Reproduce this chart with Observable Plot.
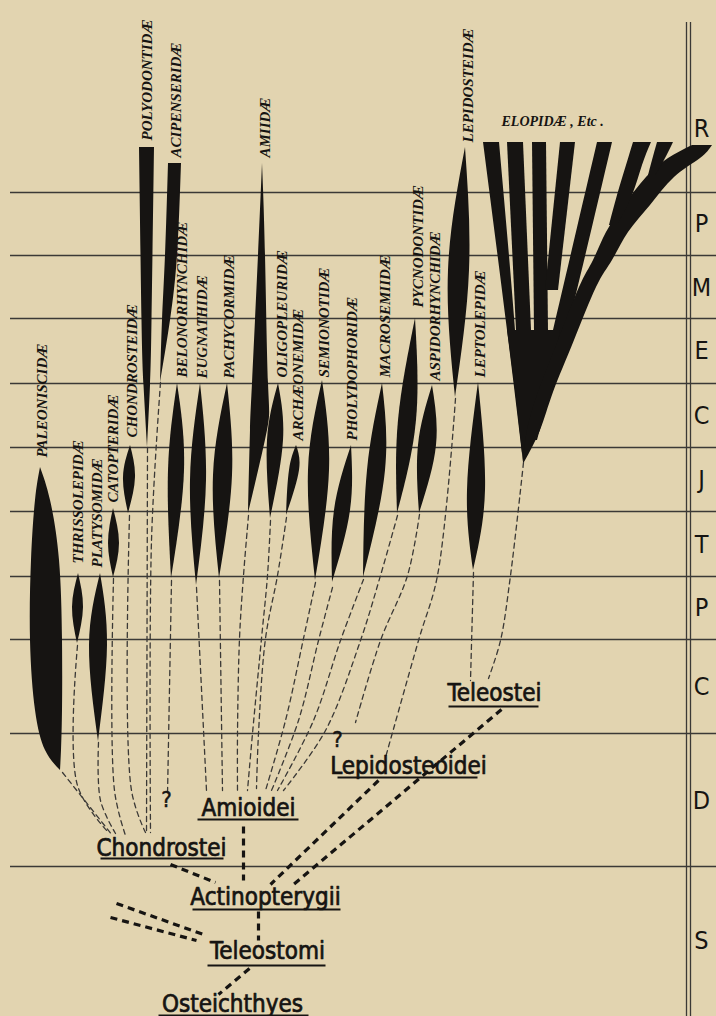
<!DOCTYPE html>
<html><head><meta charset="utf-8">
<script src="https://cdn.jsdelivr.net/npm/d3@7"></script>
<script src="https://cdn.jsdelivr.net/npm/@observablehq/plot@0.6"></script>
<style>
html,body{margin:0;padding:0;background:#e2d4b0;}
#chart svg{display:block;background:#e2d4b0;}
</style></head><body><div id="chart"></div>
<script>
// ---------- data (diagram coordinate space: 716 x 1016 units) ----------
const periodNames = ["R","P","M","E","C","J","T","P","C","D","S"];
const periodLabelY = [128,223,287,350,415,479,544,607,686,800,940];
const periodLabelX = 701;
const periodBoundaries = [192,255,318,383,447,511,576,639,733,866];
const dividerX = [686, 690];

const familyNames = ["PALEONISCIDÆ","THRISSOLEPIDÆ","PLATYSOMIDÆ","CATOPTERIDÆ","CHONDROSTEIDÆ","POLYODONTIDÆ","ACIPENSERIDÆ","BELONORHYNCHIDÆ","EUGNATHIDÆ","PACHYCORMIDÆ","AMIIDÆ","OLIGOPLEURIDÆ","ARCHÆONEMIDÆ","SEMIONOTIDÆ","PHOLYDOPHORIDÆ","MACROSEMIIDÆ","PYCNODONTIDÆ","ASPIDORHYNCHIDÆ","LEPIDOSTEIDÆ","LEPTOLEPIDÆ"];
const familyLabelX = [42,78,97,113,132,147,176,182,202,229,265,282,298,324,352,385,418,435,468,480];
const familyLabelY = [457,563,567,502,437,140,157,377,378,378,157,377,440,377,440,377,307,380,142,377];

// spindle outlines: [family, y, xLeft, xRight]
const spindleKeys = [
 ["PALEONISCIDÆ",467,40,40],["PALEONISCIDÆ",500,35,50],["PALEONISCIDÆ",560,31,59],["PALEONISCIDÆ",640,30,62],["PALEONISCIDÆ",710,35,62],["PALEONISCIDÆ",750,45,61],["PALEONISCIDÆ",770,60,60],
 ["THRISSOLEPIDÆ",573,78,78],["THRISSOLEPIDÆ",607,72,83],["THRISSOLEPIDÆ",643,77,77],
 ["PLATYSOMIDÆ",573,100,100],["PLATYSOMIDÆ",645,89,107],["PLATYSOMIDÆ",741,98,98],
 ["CATOPTERIDÆ",508,113,113],["CATOPTERIDÆ",543,108,119],["CATOPTERIDÆ",577,113,113],
 ["CHONDROSTEIDÆ",445,130,130],["CHONDROSTEIDÆ",477,123,135],["CHONDROSTEIDÆ",513,128,128],
 ["POLYODONTIDÆ",147,139,154],["POLYODONTIDÆ",320,141.5,151.5],["POLYODONTIDÆ",385,143.5,150],["POLYODONTIDÆ",447,147,147],
 ["ACIPENSERIDÆ",163,168,181],["ACIPENSERIDÆ",255,165,177],["ACIPENSERIDÆ",320,162,170],["ACIPENSERIDÆ",382,160,160],
 ["BELONORHYNCHIDÆ",383,177,177],["BELONORHYNCHIDÆ",470,168,184],["BELONORHYNCHIDÆ",578,171,171],
 ["EUGNATHIDÆ",383,200,200],["EUGNATHIDÆ",480,190,206],["EUGNATHIDÆ",585,196,196],
 ["PACHYCORMIDÆ",383,227,227],["PACHYCORMIDÆ",475,213,232],["PACHYCORMIDÆ",578,219,219],
 ["AMIIDÆ",163,262,262],["AMIIDÆ",255,258,265],["AMIIDÆ",383,252,268],["AMIIDÆ",430,250,267],["AMIIDÆ",513,248,248],
 ["OLIGOPLEURIDÆ",383,278,278],["OLIGOPLEURIDÆ",440,267,283],["OLIGOPLEURIDÆ",518,270,270],
 ["ARCHÆONEMIDÆ",445,296,296],["ARCHÆONEMIDÆ",470,289,299],["ARCHÆONEMIDÆ",515,286,286],
 ["SEMIONOTIDÆ",380,322,322],["SEMIONOTIDÆ",470,308,329],["SEMIONOTIDÆ",580,315,315],
 ["PHOLYDOPHORIDÆ",445,351,351],["PHOLYDOPHORIDÆ",510,334,350],["PHOLYDOPHORIDÆ",582,332,332],
 ["MACROSEMIIDÆ",383,382,382],["MACROSEMIIDÆ",470,367,385],["MACROSEMIIDÆ",577,363,363],
 ["PYCNODONTIDÆ",318,415,415],["PYCNODONTIDÆ",420,398,416],["PYCNODONTIDÆ",513,397,397],
 ["ASPIDORHYNCHIDÆ",385,432,432],["ASPIDORHYNCHIDÆ",445,418,436],["ASPIDORHYNCHIDÆ",513,419,419],
 ["LEPIDOSTEIDÆ",147,465,465],["LEPIDOSTEIDÆ",270,448,469],["LEPIDOSTEIDÆ",397,455,455],
 ["LEPTOLEPIDÆ",382,478,478],["LEPTOLEPIDÆ",490,467,485],["LEPTOLEPIDÆ",570,473,473]
];

// Elopidae fan branches: [branch, y, xLeft, xRight]
const fanBranches = [
 ["A",142,483,499],["A",330,507,515],["A",462,523,523],
 ["B",142,507,523],["B",330,516,531],
 ["C",142,532,546],["C",330,534,548],
 ["D",142,560,575],["D",290,545,558],
 ["E",142,597,612],["E",330,553,567],["E",440,527,537],
 ["T",330,507,560],["T",390,515,548],["T",462,523,523],
 ["F",145,692,712],["F",158,668,700],["F",177,646,674],["F",205,624,650],["F",232,606,628],["F",260,593,612],["F",287,579,596],["F",340,558,574],["F",392,538,553],["F",430,527,540],["F",462,523,524],
 ["G1",142,633,651],["G1",165,626,642],["G1",195,617,632],["G1",225,609,617],
 ["G2",142,657,673],["G2",160,652,664],["G2",175,648,655]
];
const fanLabel = "ELOPIDÆ , Etc .";
const fanLabelX = 501, fanLabelY = 121;

// thin dashed descent lines: [family, [[x,y],...]]
const thinConnectors = [
 ["PALEONISCIDÆ", [[62,772],[112,835]]],
 ["THRISSOLEPIDÆ", [[77,645],[77,785],[108,832]]],
 ["PLATYSOMIDÆ", [[98,742],[100,800],[115,833]]],
 ["CATOPTERIDÆ", [[113,578],[114,790],[125,835]]],
 ["CHONDROSTEIDÆ", [[129,515],[131,790],[145,832]]],
 ["POLYODONTIDÆ", [[147,447],[146,832]]],
 ["ACIPENSERIDÆ", [[160,382],[151,540],[150,832]]],
 ["BELONORHYNCHIDÆ", [[171,580],[167,795]]],
 ["EUGNATHIDÆ", [[196,587],[206,790]]],
 ["PACHYCORMIDÆ", [[219,580],[222,790]]],
 ["AMIIDÆ", [[248,515],[243,575],[239,638],[237,733],[237,790]]],
 ["OLIGOPLEURIDÆ", [[270,520],[267,575],[261,638],[252,733],[247,790]]],
 ["ARCHÆONEMIDÆ", [[286,517],[277,575],[265,638],[258,733],[256,788]]],
 ["SEMIONOTIDÆ", [[315,582],[303,638],[285,720],[265,790]]],
 ["PHOLYDOPHORIDÆ", [[332,587],[318,640],[298,720],[271,790]]],
 ["MACROSEMIIDÆ", [[363,579],[340,640],[313,720],[277,790]]],
 ["PYCNODONTIDÆ", [[397,515],[380,575],[360,640],[325,730],[283,790]]],
 ["ASPIDORHYNCHIDÆ", [[419,514],[407,575],[380,640],[355,722]]],
 ["LEPIDOSTEIDÆ", [[455,398],[437,575],[418,640],[385,757]]],
 ["LEPTOLEPIDÆ", [[473,572],[470,680]]],
 ["ELOPIDÆ", [[523,462],[510,575],[500,640],[488,678]]]
];

// thick dashed links between higher groups: [x1,y1,x2,y2]
const thickConnectors = [
 [170,864,215,882],[243,826,243,880],[378,780,270,884],[501,709,293,884],
 [258,911,258,940],[249,968,218,994],[116,903,203,934],[110,917,196,940]
];

const cladeNames = ["Chondrostei","Amioidei","Lepidosteoidei","Teleostei","Actinopterygii","Teleostomi","Osteichthyes"];
const cladeX = [161,248,408,494,265,267,232];
const cladeBaseY = [855,815,773,700,904,958,1011];
const underlineX1 = [100,197,337,448,192,207,158];
const underlineX2 = [223,298,477,538,340,325,308];
const underlineY = [858,819,777,706,909,965,1015];

const queryX = [166,337], queryY = [806,746];

// ---------- build ----------
const spindleRows = spindleKeys.map(([f,y,x1,x2]) => ({f,y,x1,x2}));
const fanRows = fanBranches.map(([b,y,x1,x2]) => ({b,y,x1,x2}));
const thinRows = thinConnectors.flatMap(([id,pts]) => pts.map(([x,y]) => ({id,x,y})));
const thickRows = thickConnectors.map(([x1,y1,x2,y2]) => ({x1,y1,x2,y2}));
const periodRows = periodNames.map((t,i) => ({t, y: periodLabelY[i]}));
const familyRows = familyNames.map((t,i) => ({t, x: familyLabelX[i], y: familyLabelY[i]}));
const cladeRows = cladeNames.map((t,i) => ({t, x: cladeX[i], y: cladeBaseY[i], u1: underlineX1[i], u2: underlineX2[i], uy: underlineY[i]}));
const queryRows = queryX.map((x,i) => ({x, y: queryY[i]}));

const ink = "#161412";
const lineInk = "#3b3936";
const narrow = "'Liberation Sans Narrow','DejaVu Sans Condensed',sans-serif";

const chart = Plot.plot({
  width: 716, height: 1016,
  marginTop: 0, marginRight: 0, marginBottom: 0, marginLeft: 0,
  x: {domain: [0,716], range: [0,716], axis: null},
  y: {domain: [0,1016], range: [0,1016], axis: null},
  style: {background: "#e2d4b0"},
  marks: [
    Plot.ruleY(periodBoundaries, {x1: 10, x2: 716, stroke: lineInk, strokeWidth: 1.3}),
    Plot.ruleX(dividerX, {y1: 22, y2: 1016, stroke: lineInk, strokeWidth: 1.3}),
    Plot.line(thinRows, {x: "x", y: "y", z: "id", stroke: lineInk, strokeWidth: 1.3, strokeDasharray: "5,4", curve: "catmull-rom"}),
    Plot.link(thickRows, {x1: "x1", y1: "y1", x2: "x2", y2: "y2", stroke: ink, strokeWidth: 3.2, strokeDasharray: "7,5"}),
    Plot.areaX(spindleRows, {y: "y", x1: "x1", x2: "x2", z: "f", fill: ink, curve: "natural"}),
    Plot.areaX(fanRows, {y: "y", x1: "x1", x2: "x2", z: "b", fill: ink, curve: "natural"}),
    Plot.text(periodRows, {x: periodLabelX, y: "y", text: "t", fontFamily: narrow, fontSize: 25, fill: ink}),
    Plot.text(familyRows, {x: "x", y: "y", text: "t", rotate: -90, textAnchor: "start", fontFamily: "'Liberation Serif',serif", fontStyle: "italic", fontWeight: "bold", fontSize: 15, fill: ink, ariaLabel: "family"}),
    Plot.text([fanLabel], {x: fanLabelX, y: fanLabelY, text: d => d, textAnchor: "start", fontFamily: "'Liberation Serif',serif", fontStyle: "italic", fontWeight: "bold", fontSize: 14, fill: ink, ariaLabel: "fanlabel"}),
    Plot.text(cladeRows, {x: "x", y: "y", text: "t", lineAnchor: "bottom", fontFamily: narrow, fontSize: 24, fill: ink, stroke: ink, strokeWidth: 0.7, ariaLabel: "clade"}),
    Plot.link(cladeRows, {x1: "u1", x2: "u2", y1: "uy", y2: "uy", stroke: ink, strokeWidth: 2}),
    Plot.text(queryRows, {x: "x", y: "y", text: () => "?", lineAnchor: "bottom", fontFamily: narrow, fontSize: 22, fill: ink, stroke: ink, strokeWidth: 0.5})
  ]
});
document.getElementById("chart").appendChild(chart);
d3.select(chart).selectAll('g[aria-label="clade"] text').style("letter-spacing", "1px");
d3.select(chart).selectAll('g[aria-label="fanlabel"] text').style("letter-spacing", "2px");
</script></body></html>
